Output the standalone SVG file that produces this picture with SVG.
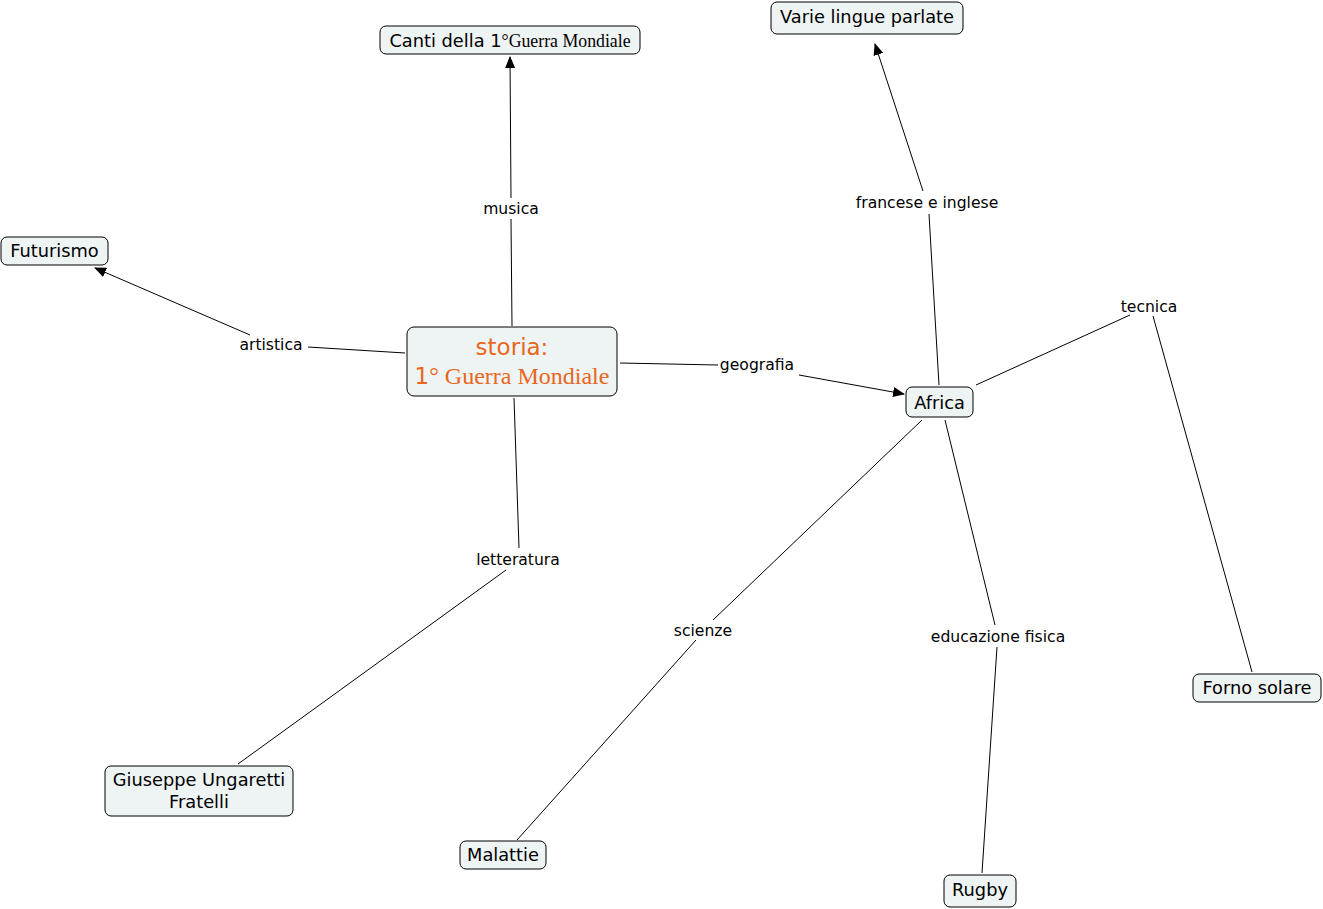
<svg xmlns="http://www.w3.org/2000/svg" width="1323" height="909" viewBox="0 0 1323 909">
<style>
.node rect{fill:#eef3f4;stroke:#000;stroke-width:1}
.nt{font-family:"DejaVu Sans",Verdana,sans-serif;font-size:17.8px;fill:#000;text-anchor:middle}
.lb{font-family:"DejaVu Sans",Verdana,sans-serif;font-size:15.6px;fill:#000;text-anchor:middle}
.sf{font-family:"Liberation Serif","Times New Roman",serif}
.or{fill:#e8671c}
#connectors line{stroke:#000;stroke-width:1;fill:none}
</style>
<defs>
<marker id="ah" markerUnits="userSpaceOnUse" markerWidth="12" markerHeight="10" refX="11" refY="5" orient="auto">
<path d="M0,0 L12,5 L0,10 Z" fill="#000"/>
</marker>
</defs>
<rect width="1323" height="909" fill="#fff"/>
<g id="connectors">
<line x1="512" y1="326" x2="511" y2="219"/>
<line x1="511" y1="198" x2="510" y2="57" marker-end="url(#ah)"/>
<line x1="405" y1="353" x2="308" y2="347"/>
<line x1="250" y1="335" x2="95" y2="268" marker-end="url(#ah)"/>
<line x1="620" y1="363" x2="718" y2="365"/>
<line x1="799" y1="375" x2="904" y2="394" marker-end="url(#ah)"/>
<line x1="514" y1="398" x2="519" y2="548"/>
<line x1="506" y1="570" x2="238" y2="764"/>
<line x1="939" y1="385" x2="929" y2="214"/>
<line x1="923" y1="191" x2="875" y2="44" marker-end="url(#ah)"/>
<line x1="976" y1="385" x2="1130" y2="315"/>
<line x1="1153" y1="316" x2="1252" y2="672"/>
<line x1="922" y1="420" x2="713" y2="620"/>
<line x1="696" y1="640" x2="517" y2="840"/>
<line x1="945" y1="420" x2="995" y2="625"/>
<line x1="997" y1="647" x2="982" y2="873"/>
<text class="lb" x="511" y="214">musica</text>
<text class="lb" x="271" y="350">artistica</text>
<text class="lb" x="757" y="370">geografia</text>
<text class="lb" x="518" y="565">letteratura</text>
<text class="lb" x="927" y="208">francese e inglese</text>
<text class="lb" x="1149" y="312">tecnica</text>
<text class="lb" x="703" y="636">scienze</text>
<text class="lb" x="998" y="642">educazione fisica</text>
</g>
<g id="n-storia" class="node">
<rect x="407" y="327" width="210" height="69" rx="7"/>
<text class="nt or" x="512" y="355" style="font-size:23px">storia:</text>
<text class="nt or" x="512" y="384" style="font-size:23px"><tspan>1</tspan><tspan class="sf" style="font-size:24px">° Guerra Mondiale</tspan></text>
</g>
<g id="n-canti" class="node">
<rect x="380" y="26" width="260" height="28" rx="6"/>
<text class="nt" x="510" y="47">Canti della 1<tspan class="sf">°Guerra Mondiale</tspan></text>
</g>
<g id="n-varie" class="node">
<rect x="771" y="2" width="192" height="32" rx="6"/>
<text class="nt" x="867" y="23">Varie lingue parlate</text>
</g>
<g id="n-futurismo" class="node">
<rect x="1" y="237" width="107" height="28" rx="6"/>
<text class="nt" x="54.5" y="257">Futurismo</text>
</g>
<g id="n-africa" class="node">
<rect x="906" y="387" width="67" height="30" rx="6"/>
<text class="nt" x="939.5" y="409">Africa</text>
</g>
<g id="n-giuseppe" class="node">
<rect x="105" y="766" width="188" height="50" rx="6"/>
<text class="nt" x="199" y="786">Giuseppe Ungaretti</text>
<text class="nt" x="199" y="808">Fratelli</text>
</g>
<g id="n-malattie" class="node">
<rect x="460" y="841" width="86" height="28" rx="6"/>
<text class="nt" x="503" y="861">Malattie</text>
</g>
<g id="n-rugby" class="node">
<rect x="944" y="875" width="72" height="32" rx="6"/>
<text class="nt" x="980" y="896">Rugby</text>
</g>
<g id="n-forno" class="node">
<rect x="1193" y="674" width="128" height="28" rx="6"/>
<text class="nt" x="1257" y="694">Forno solare</text>
</g>
</svg>
